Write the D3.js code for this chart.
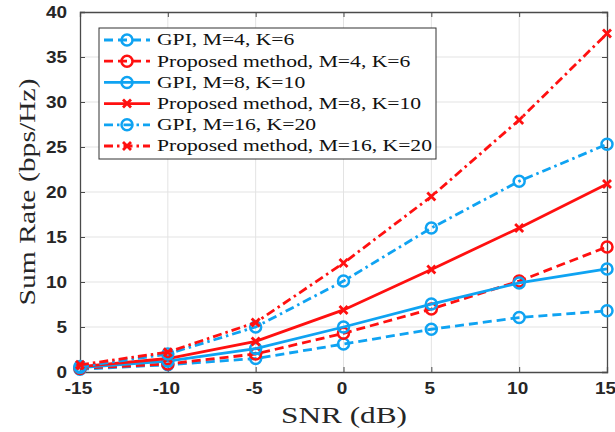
<!DOCTYPE html>
<html>
<head>
<meta charset="utf-8">
<script src="https://cdn.jsdelivr.net/npm/d3@7"></script>
<style>
  body { margin: 0; background: #fff; }
  .tick text { font-family: "Liberation Sans", Arial, sans-serif; font-weight: bold; font-size: 15.8px; fill: #262626; }
  .axis-label { font-family: "Liberation Serif", "Times New Roman", serif; font-size: 23.5px; fill: #262626; }
  .legend text { font-family: "Liberation Serif", "Times New Roman", serif; font-size: 16.6px; fill: #111; }
</style>
</head>
<body>
<div id="chart"></div>
<script>
const snr = [-15, -10, -5, 0, 5, 10, 15];
const xTicks = [-15, -10, -5, 0, 5, 10, 15];
const yTicks = [0, 5, 10, 15, 20, 25, 30, 35, 40];

const gpi_4_6 = [0.3, 0.8, 1.5, 3.1, 4.75, 6.05, 6.8];
const prop_4_6 = [0.4, 0.9, 2.0, 4.3, 7.0, 10.1, 13.9];
const gpi_8_10 = [0.5, 1.2, 2.6, 5.0, 7.55, 9.9, 11.45];
const prop_8_10 = [0.6, 1.5, 3.4, 6.9, 11.4, 16.0, 20.9];
const gpi_16_20 = [0.6, 2.0, 5.0, 10.1, 16.0, 21.2, 25.3];
const prop_16_20 = [0.8, 2.2, 5.5, 12.1, 19.5, 28.0, 37.6];

const seriesNames = [
    'GPI, M=4, K=6',
    'Proposed method, M=4, K=6',
    'GPI, M=8, K=10',
    'Proposed method, M=8, K=10',
    'GPI, M=16, K=20',
    'Proposed method, M=16, K=20'
];

const blue = '#0fa3f2';
const red = '#ff1010';
const dashed = '9,5';
const dashDot = '9,4,2.5,4';

const series = [
    { name: seriesNames[0], values: gpi_4_6, color: blue, dash: dashed, marker: 'o' },
    { name: seriesNames[1], values: prop_4_6, color: red, dash: dashed, marker: 'o' },
    { name: seriesNames[2], values: gpi_8_10, color: blue, dash: null, marker: 'o' },
    { name: seriesNames[3], values: prop_8_10, color: red, dash: null, marker: 'x' },
    { name: seriesNames[4], values: gpi_16_20, color: blue, dash: dashDot, marker: 'o' },
    { name: seriesNames[5], values: prop_16_20, color: red, dash: dashDot, marker: 'x' }
];

const width = 615, height = 432;
const margin = { left: 80, right: 8, top: 12, bottom: 60 };
const innerWidth = width - margin.left - margin.right;
const innerHeight = height - margin.top - margin.bottom;

// the reference text is stretched sideways a little
function stretch(sel, factor) {
    sel.each(function () {
        const w = this.getComputedTextLength();
        d3.select(this)
            .attr('textLength', w * factor)
            .attr('lengthAdjust', 'spacingAndGlyphs');
    });
}

const svg = d3.select('#chart').append('svg')
    .attr('width', width)
    .attr('height', height);

const g = svg.append('g')
    .attr('transform', `translate(${margin.left},${margin.top})`);

const xScale = d3.scaleLinear().domain([-15, 15]).range([0, innerWidth]);
const yScale = d3.scaleLinear().domain([0, 40]).range([innerHeight, 0]);

// grid
g.append('g').selectAll('line').data(xTicks.slice(1, -1))
    .enter().append('line')
    .attr('x1', d => xScale(d)).attr('x2', d => xScale(d))
    .attr('y1', 0).attr('y2', innerHeight)
    .attr('stroke', '#e3e3e3').attr('stroke-width', 1);
g.append('g').selectAll('line').data(yTicks.slice(1, -1))
    .enter().append('line')
    .attr('y1', d => yScale(d)).attr('y2', d => yScale(d))
    .attr('x1', 0).attr('x2', innerWidth)
    .attr('stroke', '#e3e3e3').attr('stroke-width', 1);

// axes
const fmt = d => String(d);
const xAxisG = g.append('g')
    .attr('transform', `translate(0,${innerHeight})`)
    .call(d3.axisBottom(xScale).tickValues(xTicks).tickSize(-5).tickFormat(fmt));
const yAxisG = g.append('g')
    .call(d3.axisLeft(yScale).tickValues(yTicks).tickSize(-5).tickPadding(13).tickFormat(fmt));
const xTopG = g.append('g')
    .call(d3.axisTop(xScale).tickValues(xTicks).tickSize(-5).tickFormat(''));
const yRightG = g.append('g')
    .attr('transform', `translate(${innerWidth},0)`)
    .call(d3.axisRight(yScale).tickValues(yTicks).tickSize(-5).tickFormat(''));

[xAxisG, yAxisG, xTopG, yRightG].forEach(a => {
    a.select('.domain').attr('stroke', '#4a4a4a').attr('stroke-width', 1.3);
    a.selectAll('.tick line').attr('stroke', '#4a4a4a');
});
xAxisG.selectAll('.tick text')
    .attr('y', 22.3).attr('dy', null).attr('x', -2);
yAxisG.selectAll('.tick text').attr('dy', '0.36em');
stretch(xAxisG.selectAll('.tick text'), 1.2);
stretch(yAxisG.selectAll('.tick text'), 1.2);

// lines
const line = d3.line()
    .x((d, i) => xScale(snr[i]))
    .y(d => yScale(d));

function drawMarker(sel, marker, color) {
    if (marker === 'o') {
        sel.append('circle')
            .attr('r', 5.5)
            .attr('fill', 'none')
            .attr('stroke', color)
            .attr('stroke-width', 2.5);
    } else {
        sel.append('path')
            .attr('d', 'M-4,-4L4,4M-4,4L4,-4')
            .attr('stroke', color)
            .attr('stroke-width', 2.8);
    }
}

series.forEach(s => {
    g.append('path')
        .datum(s.values)
        .attr('d', line)
        .attr('fill', 'none')
        .attr('stroke', s.color)
        .attr('stroke-width', 2.8)
        .attr('stroke-dasharray', s.dash);
    g.append('g').selectAll('g').data(s.values)
        .enter().append('g')
        .attr('transform', (d, i) => `translate(${xScale(snr[i])},${yScale(d)})`)
        .each(function () { drawMarker(d3.select(this), s.marker, s.color); });
});

// axis labels
svg.append('text')
    .attr('class', 'axis-label')
    .attr('x', 344)
    .attr('y', 423)
    .attr('text-anchor', 'middle')
    .attr('textLength', 126)
    .attr('lengthAdjust', 'spacingAndGlyphs')
    .text('SNR (dB)');

svg.append('text')
    .attr('class', 'axis-label')
    .attr('transform', `translate(35,${margin.top + innerHeight / 2}) rotate(-90)`)
    .attr('text-anchor', 'middle')
    .attr('textLength', 227)
    .attr('lengthAdjust', 'spacingAndGlyphs')
    .text('Sum Rate (bps/Hz)');

// legend
const legend = svg.append('g').attr('class', 'legend')
    .attr('transform', 'translate(99,28)');
legend.append('rect')
    .attr('width', 337).attr('height', 131)
    .attr('fill', '#fff').attr('stroke', '#333').attr('stroke-width', 1);

const rows = legend.selectAll('.row').data(series)
    .enter().append('g').attr('class', 'row')
    .attr('transform', (d, i) => `translate(0,${12 + i * 21.2})`);
rows.append('line')
    .attr('x1', 5).attr('x2', 51).attr('y1', 0).attr('y2', 0)
    .attr('stroke', d => d.color)
    .attr('stroke-width', 2.8)
    .attr('stroke-dasharray', d => d.dash);
rows.append('g').attr('transform', 'translate(28,0)')
    .each(function (d) { drawMarker(d3.select(this), d.marker, d.color); });
const legendText = rows.append('text')
    .attr('x', 58).attr('y', 0).attr('dy', '0.33em')
    .text(d => d.name);
const longest = d3.max(legendText.nodes(), n => n.getComputedTextLength());
stretch(legendText, 275 / longest);
</script>
</body>
</html>
